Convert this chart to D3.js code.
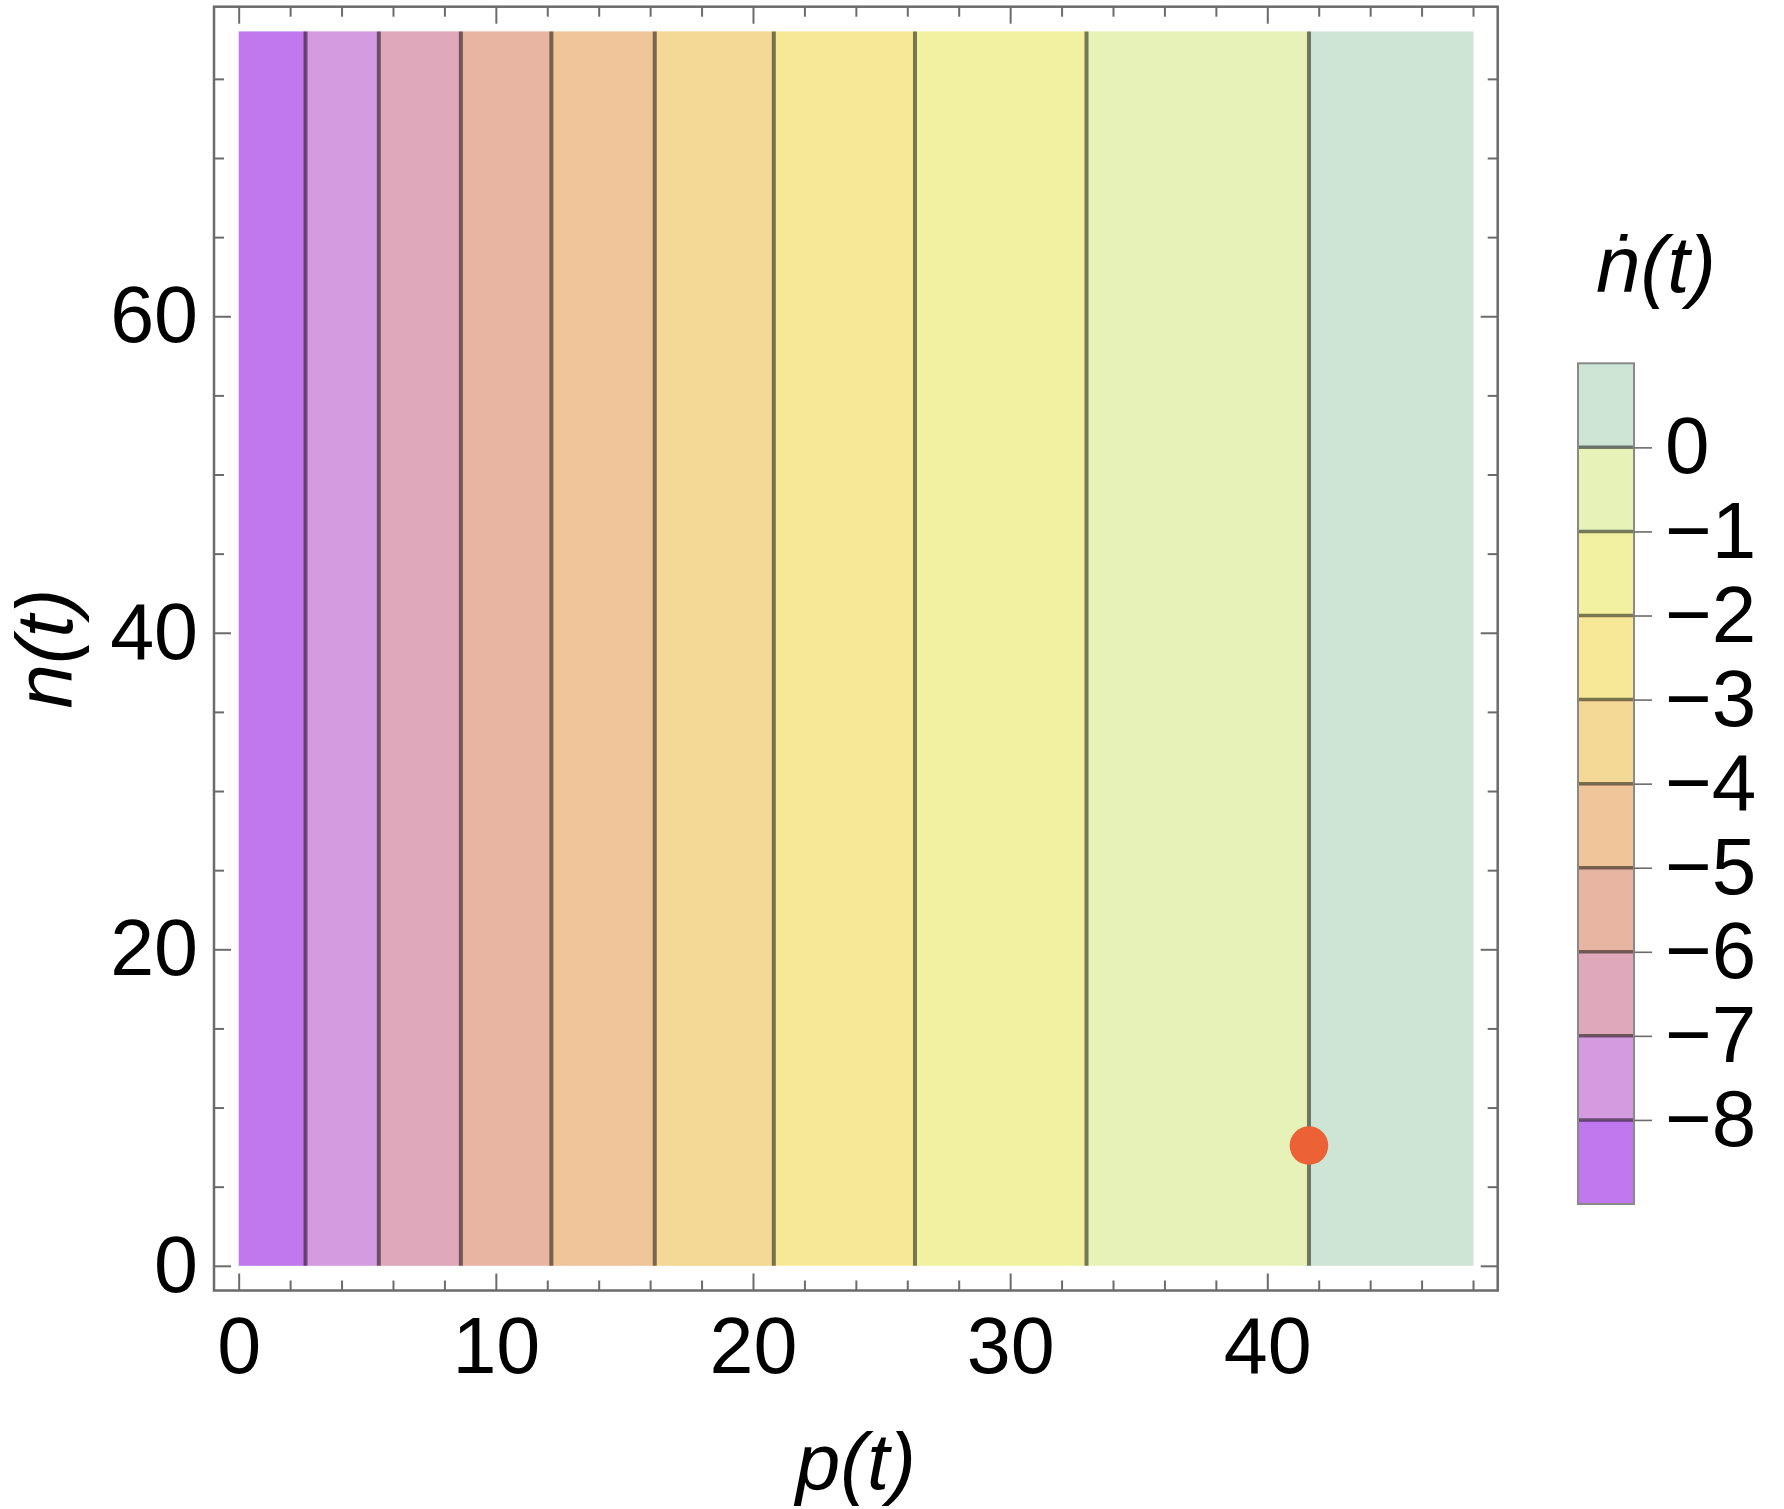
<!DOCTYPE html>
<html>
<head>
<meta charset="utf-8">
<script src="https://cdn.jsdelivr.net/npm/d3@7"></script>
<style>
  html, body { margin: 0; padding: 0; background: #fff; }
  svg { display: block; font-family: "Liberation Sans", Arial, Helvetica, sans-serif; }
</style>
</head>
<body>
<div id="chart"></div>
<script>
// contour levels of n'(t) and where each one crosses the p axis
const levels = [-8, -7, -6, -5, -4, -3, -2, -1, 0];
const contourP = [2.6, 5.45, 8.64, 12.16, 16.18, 20.81, 26.30, 32.97, 41.62];

// band fills, from lowest (< -8) to highest (> 0)
const bandColors = [
  "#c178ee", "#d49be0", "#e0a9bb", "#e9b5a3", "#f0c599",
  "#f3d995", "#f6e897", "#f2f1a2", "#e6f2b8", "#cee5d6"
];

const pRange = [0, 48];
const nRange = [0, 78];
const barRange = [-9, 1];

const xTicks = [0, 10, 20, 30, 40];
const xMinor = d3.range(0, 49, 2).filter(v => v % 10 !== 0);
const yTicks = [0, 20, 40, 60];
const yMinor = d3.range(0, 80, 5).filter(v => v % 20 !== 0);

const marker = { p: 41.62, n: 7.6 };

const W = 1784, H = 1509;
const frame = { left: 214, right: 1497.7, top: 6.7, bottom: 1290.5 };
const bar = { left: 1578, right: 1634, top: 363.3, bottom: 1204 };

const svg = d3.select("#chart").append("svg")
  .attr("width", W)
  .attr("height", H);

// 2% padding round the data range, like the original
const padX = (pRange[1] - pRange[0]) * 0.02;
const padY = (nRange[1] - nRange[0]) * 0.02;

const x = d3.scaleLinear()
  .domain([pRange[0] - padX, pRange[1] + padX])
  .range([frame.left, frame.right]);

const y = d3.scaleLinear()
  .domain([nRange[0] - padY, nRange[1] + padY])
  .range([frame.bottom, frame.top]);

// band edges in p
const edges = [pRange[0], ...contourP, pRange[1]];
const bands = bandColors.map((c, i) => ({ p0: edges[i], p1: edges[i + 1], color: c }));

const plot = svg.append("g");

plot.selectAll("rect.band")
  .data(bands)
  .enter()
  .append("rect")
  .attr("class", "band")
  .attr("x", d => x(d.p0))
  .attr("width", d => x(d.p1) - x(d.p0) + 0.5)
  .attr("y", y(nRange[1]))
  .attr("height", y(nRange[0]) - y(nRange[1]))
  .attr("fill", d => d.color);

plot.selectAll("line.contour")
  .data(contourP)
  .enter()
  .append("line")
  .attr("class", "contour")
  .attr("x1", d => x(d))
  .attr("x2", d => x(d))
  .attr("y1", y(nRange[0]))
  .attr("y2", y(nRange[1]))
  .attr("stroke", "#000")
  .attr("stroke-opacity", 0.5)
  .attr("stroke-width", 4);

plot.append("circle")
  .attr("cx", x(marker.p))
  .attr("cy", y(marker.n))
  .attr("r", 19.3)
  .attr("fill", "#ec6236");

// --- frame and ticks (inward, all four sides) ---
const tickColor = "#6b6b6b";

function styleAxis(g) {
  g.select(".domain").remove();
  g.selectAll(".tick line").attr("stroke", tickColor).attr("stroke-width", 2);
  g.selectAll(".tick text")
    .attr("fill", "#000")
    .style("font-size", "79px")
    .style("font-family", "\"Liberation Sans\", Arial, sans-serif");
}

// bottom
svg.append("g")
  .attr("transform", `translate(0,${frame.bottom})`)
  .call(d3.axisBottom(x).tickValues(xTicks).tickSize(-17).tickPadding(26).tickFormat(d3.format("d")))
  .call(styleAxis);
svg.append("g")
  .attr("transform", `translate(0,${frame.bottom})`)
  .call(d3.axisBottom(x).tickValues(xMinor).tickSize(-10).tickFormat(""))
  .call(styleAxis);
// top
svg.append("g")
  .attr("transform", `translate(0,${frame.top})`)
  .call(d3.axisTop(x).tickValues(xTicks).tickSize(-17).tickFormat(""))
  .call(styleAxis);
svg.append("g")
  .attr("transform", `translate(0,${frame.top})`)
  .call(d3.axisTop(x).tickValues(xMinor).tickSize(-10).tickFormat(""))
  .call(styleAxis);
// left
svg.append("g")
  .attr("transform", `translate(${frame.left},0)`)
  .call(d3.axisLeft(y).tickValues(yTicks).tickSize(-17).tickPadding(16).tickFormat(d3.format("d")))
  .call(styleAxis);
svg.append("g")
  .attr("transform", `translate(${frame.left},0)`)
  .call(d3.axisLeft(y).tickValues(yMinor).tickSize(-10).tickFormat(""))
  .call(styleAxis);
// right
svg.append("g")
  .attr("transform", `translate(${frame.right},0)`)
  .call(d3.axisRight(y).tickValues(yTicks).tickSize(-17).tickFormat(""))
  .call(styleAxis);
svg.append("g")
  .attr("transform", `translate(${frame.right},0)`)
  .call(d3.axisRight(y).tickValues(yMinor).tickSize(-10).tickFormat(""))
  .call(styleAxis);

svg.append("rect")
  .attr("x", frame.left)
  .attr("y", frame.top)
  .attr("width", frame.right - frame.left)
  .attr("height", frame.bottom - frame.top)
  .attr("fill", "none")
  .attr("stroke", tickColor)
  .attr("stroke-width", 2.5);

// axis labels
svg.append("text")
  .attr("x", (frame.left + frame.right) / 2)
  .attr("y", 1489)
  .attr("text-anchor", "middle")
  .style("font-size", "80px")
  .style("font-style", "italic")
  .text("p(t)");

svg.append("text")
  .attr("transform", `translate(72,${(frame.top + frame.bottom) / 2}) rotate(-90)`)
  .attr("text-anchor", "middle")
  .style("font-size", "80px")
  .style("font-style", "italic")
  .text("n(t)");

// --- colour bar legend ---
const cb = d3.scaleLinear()
  .domain(barRange)
  .range([bar.bottom, bar.top]);

const barEdges = [barRange[0], ...levels, barRange[1]];
const barBands = bandColors.map((c, i) => ({ v0: barEdges[i], v1: barEdges[i + 1], color: c }));

const legend = svg.append("g").attr("class", "colorbar");

legend.selectAll("rect.cband")
  .data(barBands)
  .enter()
  .append("rect")
  .attr("class", "cband")
  .attr("x", bar.left)
  .attr("width", bar.right - bar.left)
  .attr("y", d => cb(d.v1))
  .attr("height", d => cb(d.v0) - cb(d.v1) + 0.5)
  .attr("fill", d => d.color);

legend.selectAll("line.clevel")
  .data(levels)
  .enter()
  .append("line")
  .attr("class", "clevel")
  .attr("x1", bar.left)
  .attr("x2", bar.right)
  .attr("y1", d => cb(d))
  .attr("y2", d => cb(d))
  .attr("stroke", "#000")
  .attr("stroke-opacity", 0.5)
  .attr("stroke-width", 3.5);

legend.append("rect")
  .attr("x", bar.left)
  .attr("y", bar.top)
  .attr("width", bar.right - bar.left)
  .attr("height", bar.bottom - bar.top)
  .attr("fill", "none")
  .attr("stroke", "#8a8a8a")
  .attr("stroke-width", 2);

legend.append("g")
  .attr("transform", `translate(${bar.right},0)`)
  .call(d3.axisRight(cb).tickValues(levels).tickSize(18).tickPadding(13).tickFormat(d3.format("d")))
  .call(g => {
    g.select(".domain").remove();
    g.selectAll(".tick line").attr("stroke", tickColor).attr("stroke-width", 1.6);
    g.selectAll(".tick text")
      .attr("fill", "#000")
      .style("font-size", "80px")
      .style("font-family", "\"Liberation Sans\", Arial, sans-serif");
  });

svg.append("text")
  .attr("x", 1656)
  .attr("y", 292)
  .attr("text-anchor", "middle")
  .style("font-size", "80px")
  .style("font-style", "italic")
  .text("\u1E45(t)");
</script>
</body>
</html>
